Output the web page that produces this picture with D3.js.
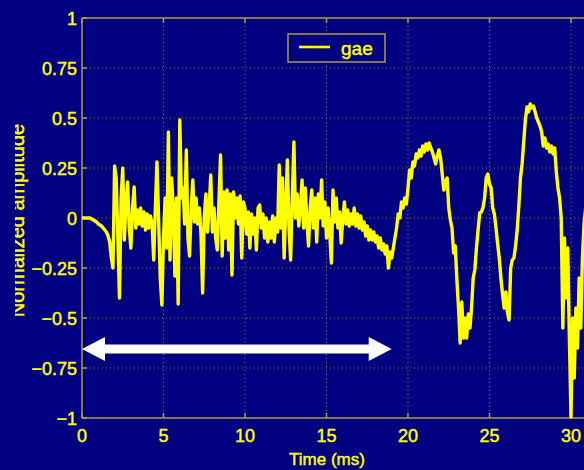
<!DOCTYPE html>
<html><head><meta charset="utf-8">
<script src="https://cdn.jsdelivr.net/npm/d3@7"></script>
<style>html,body{margin:0;padding:0;background:#000080;overflow:hidden}
text{stroke:#ffff00;stroke-width:0.45px}</style>
</head><body>
<svg id="c" width="584" height="470"></svg>
<script>
// ---- data ----
const sampleStep = 0.1; // ms between samples
const amplitude = [
  0,0,0,0,0,0,-0.005,-0.01,-0.015,-0.02,
  -0.03,-0.035,-0.04,-0.05,-0.06,-0.07,-0.09,-0.12,-0.2,-0.25,
  0.26,0.2,-0.1,-0.4,0.1,0.25,-0.11,0.08,0.18,-0.05,
  -0.15,0.05,0.155,-0.05,0.04,-0.03,0.05,-0.04,0.03,-0.06,
  0.02,-0.05,0.01,-0.03,-0.21,0.05,0.28,0.0,-0.3,-0.435,
  -0.1,0.1,-0.15,0.43,-0.21,0.2,0.05,-0.29,0.1,-0.43,
  0.49,0.1,0.15,-0.03,0.34,-0.1,-0.19,0.05,0.19,-0.02,
  0.1,-0.03,0.05,-0.08,-0.375,0.0,0.12,-0.07,0.05,0.215,
  -0.07,0.05,-0.1,-0.16,0.08,0.315,-0.19,0.13,-0.1,0.14,
  -0.16,0.12,-0.285,0.13,0.0,0.1,-0.03,0.11,-0.2,0.08,
  0.05,-0.08,0.03,-0.15,0.02,-0.08,0.0,-0.16,0.05,0.065,
  -0.05,0.02,-0.1,0.0,-0.12,-0.02,-0.1,0.01,-0.12,0.0,
  -0.07,0.265,-0.05,0.2,-0.2,0.05,0.29,-0.05,-0.21,0.1,
  0.38,0.0,0.12,-0.04,0.05,0.19,-0.05,0.15,-0.02,-0.14,
  0.05,0.14,-0.05,0.1,-0.12,0.12,0.0,0.19,-0.04,0.08,
  -0.1,0.05,-0.08,-0.225,0.14,-0.02,0.1,-0.05,0.03,-0.125,
  0.0,0.08,-0.03,0.04,-0.04,0.02,-0.03,0.05,-0.04,0.02,
  -0.05,0.01,-0.06,-0.02,-0.09,-0.04,-0.11,-0.06,-0.11,-0.07,
  -0.12,-0.09,-0.15,-0.1,-0.16,-0.13,-0.18,-0.14,-0.25,-0.17,
  -0.2,-0.15,-0.1,-0.05,0.02,0.0,0.08,0.05,0.1,0.07,
  0.15,0.24,0.2,0.28,0.26,0.32,0.3,0.34,0.31,0.36,
  0.33,0.37,0.34,0.375,0.35,0.33,0.3,0.27,0.31,0.34,
  0.3,0.22,0.14,0.18,0.2,0.05,-0.01,-0.05,-0.175,-0.14,
  -0.31,-0.45,-0.625,-0.42,-0.6,-0.5,-0.6,-0.48,-0.55,-0.45,
  -0.3,-0.26,-0.15,-0.06,0.025,0.03,0.05,0.1,0.2,0.22,
  0.17,0.15,0.05,0.02,-0.05,-0.13,-0.2,-0.3,-0.38,-0.45,
  -0.37,-0.47,-0.51,-0.25,-0.21,-0.2,-0.14,-0.06,0.06,0.2,
  0.27,0.38,0.49,0.555,0.53,0.57,0.55,0.56,0.53,0.5,
  0.48,0.46,0.43,0.36,0.4,0.35,0.37,0.33,0.36,0.32,
  0.35,0.23,0.15,0.1,0.0,-0.55,-0.1,-0.4,-0.15,-0.6,
  -0.995,-0.5,-0.8,-0.45,-0.65,-0.3,-0.55,-0.2,-0.03,0.05
];
const xTicks = [0,5,10,15,20,25,30];
const yTicks = [1,0.75,0.5,0.25,0,-0.25,-0.5,-0.75,-1];
const yTickLabels = ["1","0.75","0.5","0.25","0","\u22120.25","\u22120.5","\u22120.75","\u22121"];
const seriesName = "gae";
const xLabel = "Time (ms)";
const yLabel = "Normalized amplitude";
const arrowSpan = [0, 19];   // ms
const arrowLevel = -0.655;

// ---- styles ----
const BG = "#000080", AXIS = "#a8a040", TXT = "#ffff00", GRID = "#7a7a66", LINE = "#ffff00";
const FONT = "'Liberation Sans', Arial, Helvetica, sans-serif";

const svg = d3.select("#c");
svg.append("rect").attr("width",584).attr("height",470).attr("fill",BG);

const x = d3.scaleLinear().domain([0,32]).range([82, 82+32*16.3]);
const y = d3.scaleLinear().domain([-1,1]).range([418,18]);
const W = 584;

// grid
const g = svg.append("g");
g.selectAll(".vg").data(xTicks.filter(d=>d>0)).join("line")
  .attr("x1",d=>x(d)).attr("x2",d=>x(d)).attr("y1",y(1)).attr("y2",y(-1))
  .attr("stroke",GRID).attr("stroke-width",1).attr("stroke-dasharray","1,3");
g.selectAll(".hg").data(yTicks.filter(d=>d>-1&&d<1)).join("line")
  .attr("x1",x(0)).attr("x2",W).attr("y1",d=>y(d)).attr("y2",d=>y(d))
  .attr("stroke",GRID).attr("stroke-width",1).attr("stroke-dasharray","1,3");

// axes box
svg.append("line").attr("x1",x(0)).attr("x2",x(0)).attr("y1",y(1)).attr("y2",y(-1)).attr("stroke",AXIS).attr("stroke-width",1.5);
svg.append("line").attr("x1",x(0)).attr("x2",W).attr("y1",y(-1)).attr("y2",y(-1)).attr("stroke",AXIS).attr("stroke-width",1.5);
svg.append("line").attr("x1",x(0)).attr("x2",W).attr("y1",y(1)).attr("y2",y(1)).attr("stroke",AXIS).attr("stroke-width",1.5);
// inward ticks
svg.selectAll(".xt").data(xTicks).join("line")
  .attr("x1",d=>x(d)).attr("x2",d=>x(d)).attr("y1",y(-1)).attr("y2",y(-1)-5).attr("stroke",AXIS).attr("stroke-width",1.5);
svg.selectAll(".xt2").data(xTicks).join("line")
  .attr("x1",d=>x(d)).attr("x2",d=>x(d)).attr("y1",y(1)).attr("y2",y(1)+5).attr("stroke",AXIS).attr("stroke-width",1.5);
svg.selectAll(".yt").data(yTicks).join("line")
  .attr("x1",x(0)).attr("x2",x(0)+5).attr("y1",d=>y(d)).attr("y2",d=>y(d)).attr("stroke",AXIS).attr("stroke-width",1.5);

// tick labels
svg.selectAll(".xl").data(xTicks).join("text")
  .attr("x",d=>x(d)).attr("y",442).attr("text-anchor","middle")
  .attr("font-family",FONT).attr("font-size",18).attr("fill",TXT).text(d=>d);
svg.selectAll(".yl").data(yTicks).join("text")
  .attr("x",77).attr("y",d=>y(d)+7).attr("text-anchor","end")
  .attr("font-family",FONT).attr("font-size",18).attr("fill",TXT).text((d,i)=>yTickLabels[i]);

// axis titles
svg.append("text").attr("x",327).attr("y",465).attr("text-anchor","middle")
  .attr("font-family",FONT).attr("font-size",17).attr("fill",TXT).text(xLabel);
svg.append("clipPath").attr("id","ylc").append("rect").attr("x",15).attr("y",0).attr("width",60).attr("height",470);
svg.append("g").attr("clip-path","url(#ylc)").append("text")
  .attr("transform","translate(23.5,220.5) rotate(-90)").attr("text-anchor","middle")
  .attr("font-family",FONT).attr("font-size",20).attr("fill",TXT).text(yLabel);

// signal
const data = amplitude.map((v,i)=>({t:i*sampleStep, v}));
svg.append("path").datum(data)
  .attr("d", d3.line().x(d=>x(d.t)).y(d=>y(d.v)))
  .attr("fill","none").attr("stroke",LINE).attr("stroke-width",3.4).attr("stroke-linejoin","round");

// legend
const lg = svg.append("g");
lg.append("rect").attr("x",288).attr("y",34).attr("width",97).attr("height",28)
  .attr("fill",BG).attr("stroke",AXIS).attr("stroke-width",1.5);
lg.append("line").attr("x1",299).attr("x2",330).attr("y1",47).attr("y2",47).attr("stroke",LINE).attr("stroke-width",2.6);
lg.append("text").attr("x",341).attr("y",55).attr("font-family",FONT).attr("font-size",19).attr("fill",TXT).text(seriesName);

// double arrow
const ax0 = x(arrowSpan[0]), ax1 = x(arrowSpan[1]), ay = y(arrowLevel);
const headL = 23, headH = 12, shaft = 4.5;
svg.append("path").attr("fill","#ffffff").attr("d",
  `M${ax0},${ay} L${ax0+headL},${ay-headH} L${ax0+headL},${ay-shaft} L${ax1-headL},${ay-shaft} L${ax1-headL},${ay-headH} L${ax1},${ay} L${ax1-headL},${ay+headH} L${ax1-headL},${ay+shaft} L${ax0+headL},${ay+shaft} L${ax0+headL},${ay+headH} Z`);
</script>
</body></html>
